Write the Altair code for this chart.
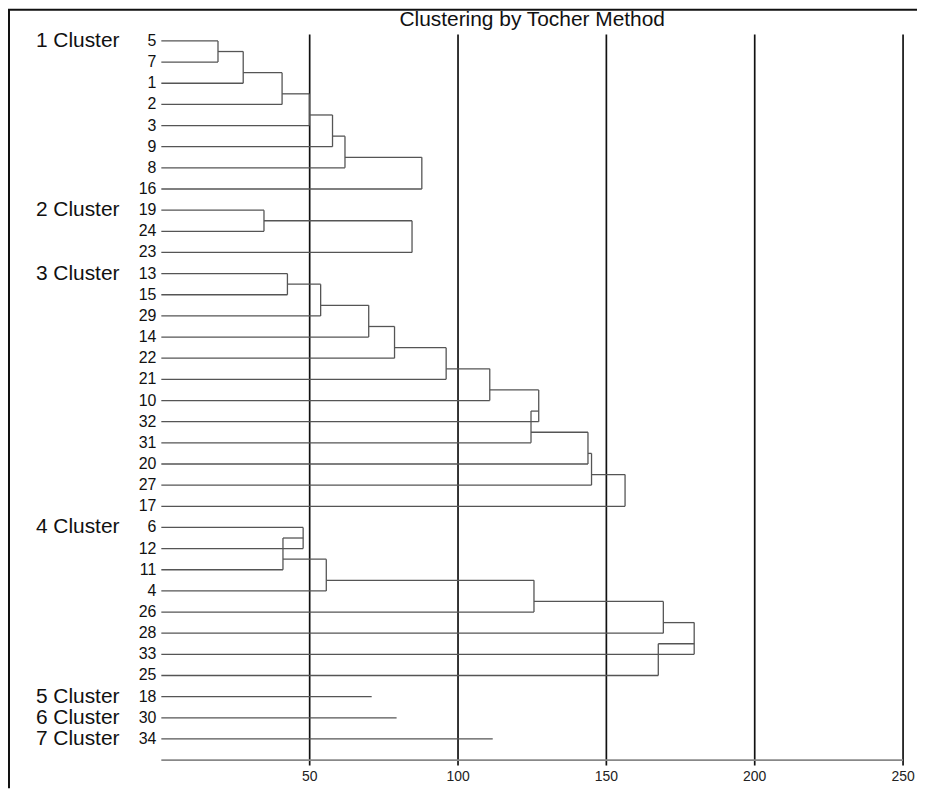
import altair as alt
import pandas as pd

# ---------------- data ----------------
title_text = "Clustering by Tocher Method"
leaf_order = [5, 7, 1, 2, 3, 9, 8, 16,
              19, 24, 23,
              13, 15, 29, 14, 22, 21, 10, 32, 31, 20, 27, 17,
              6, 12, 11, 4, 26, 28, 33, 25,
              18, 30, 34]
cluster_labels = ["1 Cluster", "2 Cluster", "3 Cluster", "4 Cluster",
                  "5 Cluster", "6 Cluster", "7 Cluster"]
cluster_sizes = [8, 3, 12, 8, 1, 1, 1]
# successive merge heights inside each cluster (chain: cluster + next leaf)
h_cluster1 = [19.1, 27.6, 40.7, 49.9, 57.7, 61.9, 87.8]
h_cluster2 = [34.6, 84.5]
h_cluster3 = [42.5, 53.7, 69.9, 78.6, 96.0, 110.7, 127.2, 124.6, 143.8, 145.0, 156.3]
h_cluster4 = [47.8, 41.0, 55.6, 125.6, 169.2, 179.6, 167.5]
h_cluster5 = [70.9]
h_cluster6 = [79.3]
h_cluster7 = [111.7]
merge_heights = [h_cluster1, h_cluster2, h_cluster3, h_cluster4,
                 h_cluster5, h_cluster6, h_cluster7]
tick_values = [50, 100, 150, 200, 250]
x_domain = [0, 250]

# ---------------- build dendrogram segments ----------------
segs = []
start = 0
for size, hs in zip(cluster_sizes, merge_heights):
    rows = list(range(start, start + size))
    if size == 1:
        segs.append((0, hs[0], rows[0], rows[0]))
    else:
        segs.append((0, hs[0], rows[0], rows[0]))
        segs.append((0, hs[0], rows[1], rows[1]))
        segs.append((hs[0], hs[0], rows[0], rows[1]))
        prev_x = hs[0]
        node_y = rows[1] - 0.5
        for k in range(1, size - 1):
            r = rows[k + 1]
            h = hs[k]
            segs.append((prev_x, h, node_y, node_y))
            segs.append((0, h, r, r))
            segs.append((h, h, node_y, r))
            prev_x = h
            node_y = r - 0.5
    start += size
seg_df = pd.DataFrame(segs, columns=["x", "x2", "y", "y2"])

leaf_df = pd.DataFrame({"leaf": [str(v) for v in leaf_order],
                        "row": list(range(len(leaf_order))),
                        "x0": [0] * len(leaf_order)})

first_rows = []
s = 0
for size in cluster_sizes:
    first_rows.append(s)
    s += size
clab_df = pd.DataFrame({"label": cluster_labels, "row": first_rows})

base_df = pd.DataFrame({"x": [x_domain[0]], "x2": [x_domain[1]],
                        "y": [len(leaf_order)]})
tick_df = pd.DataFrame({"v": tick_values, "lab": [str(v) for v in tick_values]})

# ---------------- chart ----------------
W, H = 745, 734
FONT = "Liberation Sans"
xscale = alt.Scale(domain=x_domain, nice=False, zero=False)
yscale = alt.Scale(domain=[-0.3, 34.25], reverse=True, nice=False, zero=False)

grid = alt.Chart(tick_df).mark_rule(color="#111", strokeWidth=1.7).encode(
    x=alt.X("v:Q", scale=xscale, axis=None),
    y=alt.value(0), y2=alt.value(H),
)
tick_labels = alt.Chart(tick_df).mark_text(
    align="center", baseline="middle", fontSize=14, font=FONT, color="#222"
).encode(
    x=alt.X("v:Q", scale=xscale, axis=None),
    y=alt.value(H + 12),
    text="lab:N",
)

segments = alt.Chart(seg_df).mark_rule(color="#555", strokeWidth=1.3).encode(
    x=alt.X("x:Q", scale=xscale, axis=None),
    x2="x2:Q",
    y=alt.Y("y:Q", scale=yscale, axis=None),
    y2="y2:Q",
)

baseline = alt.Chart(base_df).mark_rule(color="#888", strokeWidth=1.6).encode(
    x=alt.X("x:Q", scale=xscale, axis=None),
    x2="x2:Q",
    y=alt.Y("y:Q", scale=yscale, axis=None),
)

leaf_text = alt.Chart(leaf_df).mark_text(
    align="right", baseline="middle", dx=-5, fontSize=16, font=FONT, color="#111"
).encode(
    x=alt.X("x0:Q", scale=xscale, axis=None),
    y=alt.Y("row:Q", scale=yscale, axis=None),
    text="leaf:N",
)

cluster_text = alt.Chart(clab_df).mark_text(
    align="center", baseline="middle", fontSize=21, font=FONT, color="#111"
).encode(
    x=alt.value(-84),
    y=alt.Y("row:Q", scale=yscale, axis=None),
    text="label:N",
)

title_mark = alt.Chart(pd.DataFrame({"t": [title_text]})).mark_text(
    align="center", baseline="middle", fontSize=21, font=FONT, color="#111"
).encode(x=alt.value(W / 2), y=alt.value(-15), text="t:N")

frame_left = alt.Chart(pd.DataFrame({"a": [0]})).mark_rule(color="#111", strokeWidth=2).encode(
    x=alt.value(-153), y=alt.value(-25), y2=alt.value(H + 23))
frame_top = alt.Chart(pd.DataFrame({"a": [0]})).mark_rule(color="#111", strokeWidth=2).encode(
    x=alt.value(-154), x2=alt.value(W + 14), y=alt.value(-25))

chart = alt.layer(
    grid, tick_labels, segments, baseline, leaf_text, cluster_text,
    title_mark, frame_left, frame_top
).properties(
    width=W, height=H,
    autosize=alt.AutoSizeParams(type="none"),
    padding={"left": 154, "top": 25, "right": 14, "bottom": 23},
    background="white",
).configure_view(stroke=None)

chart.save("out.html", embed_options={"renderer": "svg", "actions": False})
